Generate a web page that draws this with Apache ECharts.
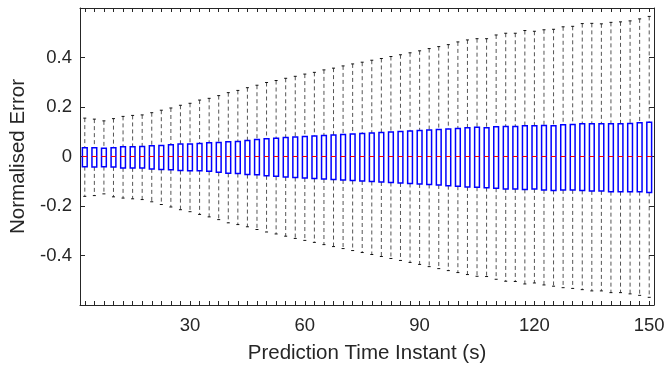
<!DOCTYPE html>
<html>
<head>
<meta charset="utf-8">
<script src="https://cdn.jsdelivr.net/npm/echarts@6/dist/echarts.min.js"></script>
<style>
html,body{margin:0;padding:0;background:#fff;}
#chart{width:670px;height:371px;}
</style>
</head>
<body>
<div id="chart"></div>
<script>
// Prediction time instants (s)
const categories = ['2.5','5','7.5','10','12.5','15','17.5','20','22.5','25','27.5','30','32.5','35','37.5','40','42.5','45','47.5','50',
'52.5','55','57.5','60','62.5','65','67.5','70','72.5','75','77.5','80','82.5','85','87.5','90','92.5','95','97.5','100',
'102.5','105','107.5','110','112.5','115','117.5','120','122.5','125','127.5','130','132.5','135','137.5','140','142.5','145','147.5','150'];

const whiskerHigh = [0.155,0.151,0.144,0.153,0.162,0.166,0.168,0.177,0.187,0.196,0.207,0.215,0.228,0.235,0.246,0.258,0.267,0.278,0.288,0.299,
0.307,0.316,0.324,0.333,0.340,0.350,0.357,0.366,0.374,0.381,0.389,0.396,0.404,0.411,0.419,0.427,0.436,0.444,0.452,0.463,
0.471,0.476,0.476,0.491,0.498,0.498,0.509,0.506,0.512,0.514,0.524,0.526,0.537,0.538,0.536,0.542,0.544,0.548,0.556,0.566];

const q3 = [0.035,0.035,0.033,0.035,0.039,0.039,0.040,0.043,0.044,0.047,0.051,0.051,0.053,0.056,0.057,0.060,0.061,0.065,0.069,0.072,
0.074,0.077,0.079,0.081,0.083,0.085,0.087,0.089,0.091,0.093,0.095,0.097,0.099,0.101,0.103,0.105,0.107,0.109,0.111,0.113,
0.116,0.118,0.116,0.120,0.121,0.121,0.124,0.124,0.125,0.124,0.128,0.129,0.132,0.132,0.132,0.132,0.132,0.133,0.136,0.138];

const median = [0,0,0,0,0,0,0,0,0,0,0,0,0,0,0,0,0,0,0,0,
0,0,0,0,0,0,0,0,0,0,0,0,0,0,0,0,0,0,0,0,
0,0,0,0,0,0,0,0,0,0,0,0,0,0,0,0,0,0,0,0];

const q1 = [-0.041,-0.042,-0.041,-0.042,-0.046,-0.046,-0.046,-0.050,-0.053,-0.054,-0.057,-0.058,-0.058,-0.060,-0.064,-0.068,-0.069,-0.073,-0.074,-0.078,
-0.080,-0.083,-0.085,-0.087,-0.089,-0.091,-0.093,-0.095,-0.097,-0.099,-0.101,-0.103,-0.105,-0.107,-0.109,-0.111,-0.113,-0.115,-0.118,-0.120,
-0.123,-0.124,-0.126,-0.128,-0.131,-0.131,-0.133,-0.131,-0.135,-0.137,-0.135,-0.135,-0.137,-0.139,-0.139,-0.142,-0.142,-0.142,-0.142,-0.145];

const whiskerLow = [-0.161,-0.158,-0.151,-0.163,-0.168,-0.171,-0.174,-0.183,-0.194,-0.204,-0.215,-0.223,-0.234,-0.244,-0.255,-0.268,-0.275,-0.284,-0.295,-0.305,
-0.313,-0.322,-0.331,-0.339,-0.347,-0.356,-0.364,-0.372,-0.380,-0.388,-0.396,-0.404,-0.412,-0.420,-0.428,-0.436,-0.445,-0.453,-0.461,-0.469,
-0.477,-0.484,-0.485,-0.496,-0.504,-0.505,-0.515,-0.511,-0.519,-0.524,-0.530,-0.533,-0.538,-0.543,-0.543,-0.550,-0.550,-0.555,-0.561,-0.569];

const xTickLabels = ['30','60','90','120','150'];
const yTickLabels = ['-0.4','-0.2','0','0.2','0.4'];

const seriesData = categories.map((c, i) => [i, whiskerLow[i], q1[i], median[i], q3[i], whiskerHigh[i]]);

const axisColor = '#262626';
const fontFamily = '"Liberation Sans", Arial, Helvetica, sans-serif';

function renderItem(params, api) {
  const idx = api.value(0);
  const lo = api.coord([idx, api.value(1)]);
  const b1 = api.coord([idx, api.value(2)]);
  const md = api.coord([idx, api.value(3)]);
  const b3 = api.coord([idx, api.value(4)]);
  const hi = api.coord([idx, api.value(5)]);
  const band = api.size([1, 0])[0];
  const hw = band * 0.25;
  const cx = lo[0];
  const capHalf = 1.5;
  const whiskerStyle = {stroke: '#555555', lineWidth: 1, lineDash: [4, 3], fill: null};
  const capStyle = {stroke: '#111', lineWidth: 1};
  return {
    type: 'group',
    children: [
      {type: 'line', shape: {x1: cx, y1: hi[1], x2: cx, y2: b3[1]}, style: whiskerStyle},
      {type: 'line', shape: {x1: cx, y1: b1[1], x2: cx, y2: lo[1]}, style: whiskerStyle},
      {type: 'line', shape: {x1: cx - capHalf, y1: hi[1], x2: cx + capHalf, y2: hi[1]}, style: capStyle},
      {type: 'line', shape: {x1: cx - capHalf, y1: lo[1], x2: cx + capHalf, y2: lo[1]}, style: capStyle},
      {type: 'rect', shape: {x: cx - hw, y: b3[1], width: 2 * hw, height: b1[1] - b3[1]},
        style: {stroke: '#0000ff', lineWidth: 1.5, fill: '#ffffff'}},
      {type: 'line', shape: {x1: cx - hw, y1: md[1], x2: cx + hw, y2: md[1]}, style: {stroke: '#ff0000', lineWidth: 1}}
    ]
  };
}

const chart = echarts.init(document.getElementById('chart'), null, {renderer: 'canvas'});

const xLabelSet = new Set(xTickLabels);
const yLabelSet = new Set(yTickLabels);

const option = {
  backgroundColor: '#ffffff',
  animation: false,
  grid: {left: 80, right: 16, top: 8, height: 297, containLabel: false},
  xAxis: [
    {
      type: 'category', data: categories, position: 'bottom', boundaryGap: true,
      name: 'Prediction Time Instant (s)', nameLocation: 'middle', nameGap: 38,
      nameTextStyle: {color: axisColor, fontSize: 20.5, fontFamily: fontFamily},
      axisLine: {show: true, onZero: false, lineStyle: {color: axisColor, width: 1}},
      axisTick: {show: true, inside: true, length: 4, interval: 0, alignWithLabel: true, lineStyle: {color: axisColor}},
      axisLabel: {show: true, interval: 0, margin: 11, color: axisColor, fontSize: 18.5, fontFamily: fontFamily,
        formatter: v => xLabelSet.has(v) ? v : ''},
      splitLine: {show: false}
    },
    {
      type: 'category', data: categories, position: 'top', boundaryGap: true,
      axisLine: {show: true, onZero: false, lineStyle: {color: axisColor, width: 1}},
      axisTick: {show: true, inside: true, length: 4, interval: 0, alignWithLabel: true, lineStyle: {color: axisColor}},
      axisLabel: {show: false},
      splitLine: {show: false}
    }
  ],
  yAxis: [
    {
      type: 'value', min: -0.6, max: 0.6, interval: 0.2, position: 'left',
      name: 'Normalised Error', nameLocation: 'middle', nameGap: 44, nameRotate: 90,
      nameTextStyle: {color: axisColor, fontSize: 20.5, fontFamily: fontFamily},
      axisLine: {show: true, lineStyle: {color: axisColor, width: 1}},
      axisTick: {show: true, inside: true, length: 5, lineStyle: {color: axisColor}},
      axisLabel: {show: true, margin: 8, color: axisColor, fontSize: 18.5, fontFamily: fontFamily,
        formatter: v => { const s = String(Math.round(v * 10) / 10); return yLabelSet.has(s) ? s : ''; }},
      splitLine: {show: false}
    },
    {
      type: 'value', min: -0.6, max: 0.6, interval: 0.2, position: 'right',
      axisLine: {show: true, lineStyle: {color: axisColor, width: 1}},
      axisTick: {show: true, inside: true, length: 5, lineStyle: {color: axisColor}},
      axisLabel: {show: false},
      splitLine: {show: false}
    }
  ],
  series: [
    {
      type: 'custom', xAxisIndex: 0, yAxisIndex: 0,
      renderItem: renderItem,
      encode: {x: 0, y: [1, 2, 3, 4, 5]},
      data: seriesData,
      clip: false
    }
  ]
};
chart.setOption(option);
</script>
</body>
</html>
